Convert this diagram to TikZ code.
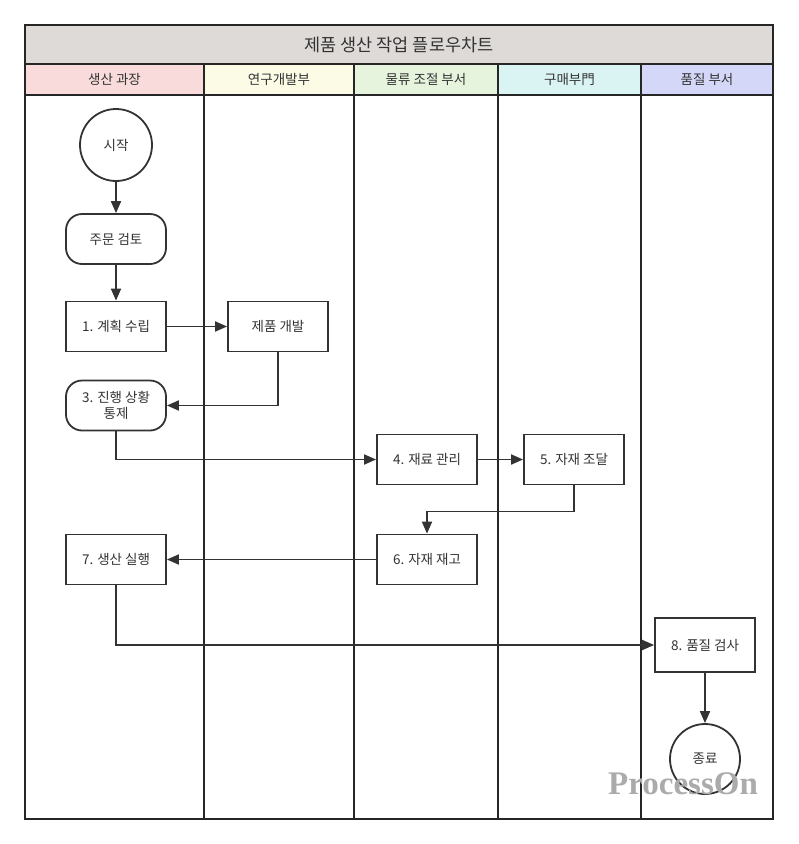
\documentclass[tikz,border=0pt]{standalone}
\usepackage{fontspec}
\setmainfont{Noto Sans CJK KR}
\newfontfamily\markfont{Liberation Serif}
\usepackage{tikz}
\usetikzlibrary{arrows.meta,shapes,positioning}
\definecolor{linegray}{HTML}{333333}
\definecolor{titlegray}{HTML}{DDDAD8}
\definecolor{lanepink}{HTML}{F9DBDB}
\definecolor{laneyellow}{HTML}{FBFBE6}
\definecolor{lanegreen}{HTML}{E6F4DD}
\definecolor{lanecyan}{HTML}{DAF3F3}
\definecolor{lanelilac}{HTML}{D5D7F8}
\tikzset{
    basic/.style   = {draw=linegray, line width=1.8pt, fill=white, align=center, font=\fontsize{13.5}{16}\selectfont, text=linegray},
    task/.style    = {basic, rectangle, minimum width=100pt, minimum height=50pt},
    soft task/.style = {basic, rectangle, rounded corners=16pt, minimum width=100pt, minimum height=50pt},
    terminal/.style = {basic, circle, minimum size=72pt, inner sep=0pt},
    lane head/.style = {draw=black!85, line width=1.8pt, font=\fontsize{13.5}{16}\selectfont, text=linegray},
    flow/.style    = {draw=linegray, line width=1.8pt, -{Triangle[length=12pt,width=10pt]}}
}

\begin{document}
\begin{tikzpicture}[x=1pt,y=-1pt]
	\useasboundingbox (0,0) rectangle (799,844);
	% title and lane headers
	\filldraw[lane head, fill=titlegray] (25,25) rectangle (773,64);
	\node[font=\fontsize{17.5}{20}\selectfont, text=linegray] (title) at (399,44.5) {제품 생산 작업 플로우차트};
	\filldraw[lane head, fill=lanepink] (25,64) rectangle (204,95);
	\filldraw[lane head, fill=laneyellow] (204,64) rectangle (354,95);
	\filldraw[lane head, fill=lanegreen] (354,64) rectangle (498,95);
	\filldraw[lane head, fill=lanecyan] (498,64) rectangle (641,95);
	\filldraw[lane head, fill=lanelilac] (641,64) rectangle (773,95);
	\node[lane head, draw=none] (lane1) at (114.5,79.5) {생산 과장};
	\node[lane head, draw=none] (lane2) at (279,79.5) {연구개발부};
	\node[lane head, draw=none] (lane3) at (426,79.5) {물류 조절 부서};
	\node[lane head, draw=none] (lane4) at (569.5,79.5) {구매부門};
	\node[lane head, draw=none] (lane5) at (707,79.5) {품질 부서};
	% lanes
	\draw[draw=black!85, line width=1.8pt] (25,95) rectangle (773,819);
	\foreach \x in {204,354,498,641}
		\draw[draw=black!85, line width=2.2pt] (\x,95) -- (\x,819);
	% steps
	\node[terminal] (start) at (116,145) {시작};
	\node[soft task] (review) at (116,239) {주문 검토};
	\node[task] (plan) at (116,326.5) {1. 계획 수립};
	\node[task] (develop) at (278,326.5) {제품 개발};
	\node[soft task] (control) at (116,405.5) {3. 진행 상황\\통제};
	\node[task] (material) at (427,459.5) {4. 재료 관리};
	\node[task] (purchase) at (574,459.5) {5. 자재 조달};
	\node[task] (stock) at (427,559.5) {6. 자재 재고};
	\node[task] (produce) at (116,559.5) {7. 생산 실행};
	\node[task, minimum height=54pt] (inspect) at (705,645) {8. 품질 검사};
	\node[terminal, minimum size=70pt] (finish) at (705,759) {종료};
	% flow
	\draw[flow] (start) -- (review);
	\draw[flow] (review) -- (plan);
	\draw[flow] (plan) -- (develop);
	\draw[flow] (develop.south) |- (control.east);
	\draw[flow] (control.south) |- (material.west);
	\draw[flow] (material) -- (purchase);
	\draw[flow] (purchase.south) -- ++(0,26) -| (stock.north);
	\draw[flow] (stock) -- (produce);
	\draw[flow] (produce.south) |- (inspect.west);
	\draw[flow] (inspect) -- (finish);
	% watermark
	\node[font=\markfont\bfseries\fontsize{33}{36}\selectfont, text=black!33] (mark) at (683,784) {ProcessOn};
\end{tikzpicture}
\end{document}
